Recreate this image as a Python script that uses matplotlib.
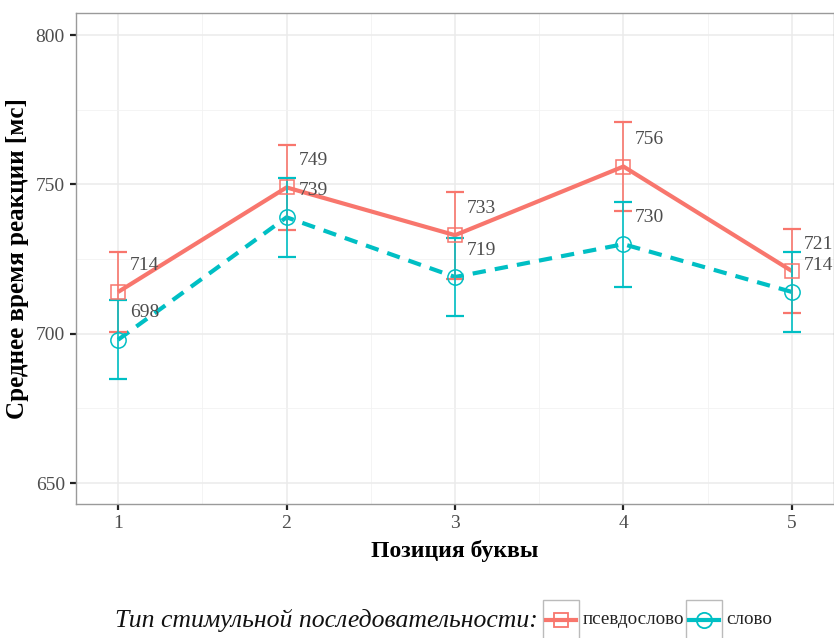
import matplotlib.pyplot as plt
from matplotlib.lines import Line2D
from matplotlib.patches import Rectangle
from matplotlib.ticker import MultipleLocator

plt.rcParams["font.family"] = ["Liberation Serif", "DejaVu Serif"]

# Данные: позиция буквы и среднее время реакции
pozicii = [1, 2, 3, 4, 5]
psevdo_mean = [714, 749, 733, 756, 721]
psevdo_err = [13.5, 14.3, 14.5, 15.0, 14.0]
slovo_mean = [698, 739, 719, 730, 714]
slovo_err = [13.2, 13.2, 13.1, 14.2, 13.3]

CVET_PS = "#F8766D"
CVET_SL = "#00BFC4"

fig = plt.figure(figsize=(8.34, 6.38), dpi=100)
ax = fig.add_axes([76 / 834, 1 - 504 / 638, 1 - 76 / 834, (504 - 13) / 638])

# сетка
ax.set_xlim(0.75, 5.25)
ax.set_ylim(643, 807.4)
ax.xaxis.set_major_locator(MultipleLocator(1))
ax.xaxis.set_minor_locator(MultipleLocator(0.5))
ax.yaxis.set_major_locator(MultipleLocator(50))
ax.yaxis.set_minor_locator(MultipleLocator(25))
ax.grid(which="major", color="#EBEBEB", linewidth=1.1)
ax.grid(which="minor", color="#F2F2F2", linewidth=0.6)
ax.set_axisbelow(True)
for s in ax.spines.values():
    s.set_color("#9A9A9A")
    s.set_linewidth(1.0)

# линии
ax.plot(pozicii, psevdo_mean, color=CVET_PS, linewidth=3.0, solid_capstyle="butt", zorder=3)
ax.plot(pozicii, slovo_mean, color=CVET_SL, linewidth=3.0, linestyle=(0, (3.2, 2.2)), zorder=3)

# планки погрешностей
ax.errorbar(pozicii, psevdo_mean, yerr=psevdo_err, fmt="none", ecolor=CVET_PS,
            elinewidth=1.2, capsize=6.8, capthick=1.6, zorder=4)
ax.errorbar(pozicii, slovo_mean, yerr=slovo_err, fmt="none", ecolor=CVET_SL,
            elinewidth=1.2, capsize=6.8, capthick=1.6, zorder=4)

# точки
ax.plot(pozicii, psevdo_mean, linestyle="none", marker="s", markersize=10,
        markerfacecolor="none", markeredgecolor=CVET_PS, markeredgewidth=1.1, zorder=5)
ax.plot(pozicii, slovo_mean, linestyle="none", marker="o", markersize=11,
        markerfacecolor="none", markeredgecolor=CVET_SL, markeredgewidth=1.1, zorder=5)

# подписи значений
for x, v in zip(pozicii, psevdo_mean):
    ax.text(x + 0.07, v + 9, str(v), ha="left", va="center", fontsize=14, color="#4D4D4D", zorder=6)
for x, v in zip(pozicii, slovo_mean):
    ax.text(x + 0.07, v + 9, str(v), ha="left", va="center", fontsize=14, color="#4D4D4D", zorder=6)

ax.tick_params(which="major", length=4, width=1.6, color="#222222", labelsize=14,
               labelcolor="#4D4D4D", pad=4)
ax.tick_params(which="minor", length=0)
ax.set_xlabel("Позиция буквы", fontsize=17, fontweight="bold", labelpad=6)
ax.set_ylabel("Среднее время реакции [мс]", fontsize=18, fontweight="bold", labelpad=5)

# легенда
fig.text(538 / 834, 1 - 620 / 638, "Тип стимульной последовательности:", ha="right", va="center",
         fontsize=18.5, style="italic", color="#111111")
kluchi = [(543, CVET_PS, "s", 10, "псевдослово"), (686, CVET_SL, "o", 11, "слово")]
for x0, cvet, mk, ms, tekst in kluchi:
    fig.patches.append(Rectangle((x0 / 834, 1 - 640 / 638), 36 / 834, 40 / 638,
                                 transform=fig.transFigure, facecolor="white",
                                 edgecolor="#BBBBBB", linewidth=1.0))
    fig.lines.append(Line2D([(x0 + 3) / 834, (x0 + 33) / 834], [1 - 620 / 638] * 2,
                            transform=fig.transFigure, color=cvet, linewidth=3.0))
    fig.lines.append(Line2D([(x0 + 18) / 834], [1 - 620 / 638], transform=fig.transFigure,
                            marker=mk, markersize=ms, markerfacecolor="none",
                            markeredgecolor=cvet, markeredgewidth=1.3))
    fig.text((x0 + 40) / 834, 1 - 620 / 638, tekst, ha="left", va="center",
             fontsize=13.7, color="#222222")

fig.savefig("out.png", dpi=100)
